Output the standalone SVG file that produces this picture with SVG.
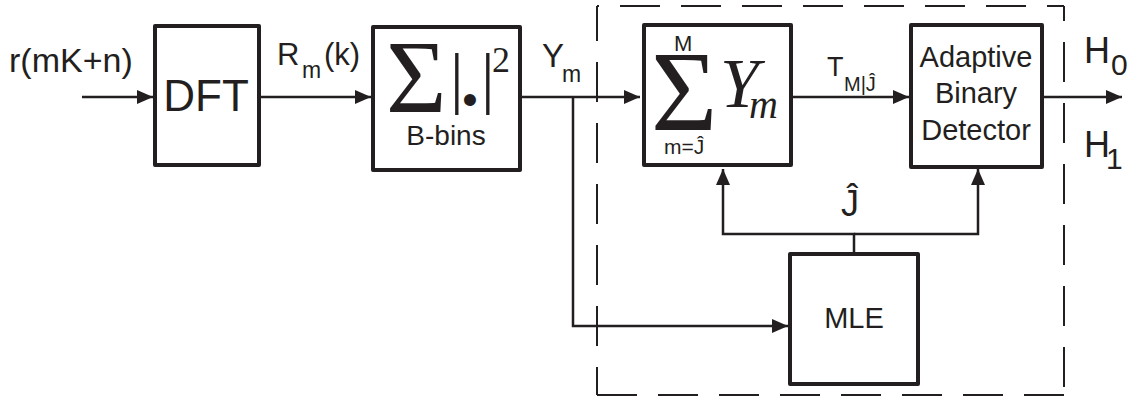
<svg xmlns="http://www.w3.org/2000/svg" width="1135" height="398" viewBox="0 0 1135 398">
<defs>
<style>
.box{fill:#fff;stroke:#231f20;stroke-width:4;stroke-linejoin:round}
.ln{fill:none;stroke:#231f20;stroke-width:2.5}
.dash{fill:none;stroke:#231f20;stroke-width:2;stroke-dasharray:40 21}
.t{font-family:"Liberation Sans",Arial,sans-serif;fill:#231f20}
.s{font-family:"Liberation Serif","Times New Roman",serif;fill:#231f20}
</style>
<marker id="ah" viewBox="0 0 16 14" refX="16" refY="7" markerWidth="16" markerHeight="14" markerUnits="userSpaceOnUse" orient="auto">
<path d="M0,0 L16,7 L0,14 z" fill="#231f20"/>
</marker>
</defs>
<rect width="1135" height="398" fill="#fff"/>
<g id="boundary">
<path class="dash" d="M597,6 H1064" stroke-dashoffset="38"/>
<path class="dash" d="M597,6 V395" stroke-dashoffset="5"/>
<path class="dash" d="M1064,6 V395" stroke-dashoffset="25"/>
<path class="dash" d="M597,395 H1064"/>
</g>
<g id="connectors">
<path class="ln" d="M82,97 H153" marker-end="url(#ah)"/>
<path class="ln" d="M261,97 H371" marker-end="url(#ah)"/>
<path class="ln" d="M522,97 H640" marker-end="url(#ah)"/>
<path class="ln" d="M573,97 V326 H788" marker-end="url(#ah)"/>
<path class="ln" d="M793,97 H909" marker-end="url(#ah)"/>
<path class="ln" d="M1044,97 H1122" marker-end="url(#ah)"/>
<path class="ln" d="M854,252 V234 H723 V169" marker-end="url(#ah)"/>
<path class="ln" d="M854,234 H978 V169" marker-end="url(#ah)"/>
</g>
<g id="labels">
<text class="t" x="9" y="72" font-size="34">r(mK+n)</text>
<text class="t" x="277" y="65" font-size="31">R</text>
<text class="t" x="302" y="78" font-size="23">m</text>
<text class="t" x="324" y="65" font-size="31">(k)</text>
<text class="t" x="542" y="67" font-size="33">Y</text>
<text class="t" x="562" y="82" font-size="23">m</text>
<text class="t" x="827" y="76" font-size="27">T</text>
<text class="t" x="844" y="91" font-size="20">M|Ĵ</text>
<text class="t" x="1084" y="63" font-size="36">H</text>
<text class="t" x="1111" y="75" font-size="30">0</text>
<text class="t" x="1084" y="157" font-size="36">H</text>
<text class="t" x="1106" y="169" font-size="30">1</text>
<text class="t" x="841" y="216" font-size="36">Ĵ</text>
</g>
<g id="dft">
<rect class="box" x="155" y="26" width="104" height="139"/>
<text class="t" x="206" y="111" font-size="44" text-anchor="middle">DFT</text>
</g>
<g id="energy">
<rect class="box" x="373" y="27" width="147" height="143"/>
<text class="s" x="386" y="112" font-size="104">Σ</text>
<text class="s" x="450" y="101" font-size="68">|</text>
<text class="t" x="470" y="115" font-size="44" text-anchor="middle">•</text>
<text class="s" x="481" y="101" font-size="68">|</text>
<text class="s" x="492" y="72" font-size="36">2</text>
<text class="t" x="446" y="145" font-size="28" text-anchor="middle">B-bins</text>
</g>
<g id="accum">
<rect class="box" x="644" y="25" width="147" height="140"/>
<text class="t" x="674" y="51" font-size="22">M</text>
<text class="s" x="651" y="130" font-size="114">Σ</text>
<text class="t" x="664" y="154" font-size="21">m=Ĵ</text>
<text class="s" x="720" y="107" font-size="70" font-style="italic">Y</text>
<text class="s" x="749" y="118" font-size="40" font-style="italic">m</text>
</g>
<g id="detector">
<rect class="box" x="911" y="25" width="131" height="142"/>
<text class="t" x="976" y="67" font-size="29" text-anchor="middle">Adaptive</text>
<text class="t" x="976" y="103" font-size="29" text-anchor="middle">Binary</text>
<text class="t" x="976" y="140" font-size="29" text-anchor="middle">Detector</text>
</g>
<g id="mle">
<rect class="box" x="790" y="254" width="128" height="130"/>
<text class="t" x="854" y="328" font-size="29" text-anchor="middle">MLE</text>
</g>
</svg>
